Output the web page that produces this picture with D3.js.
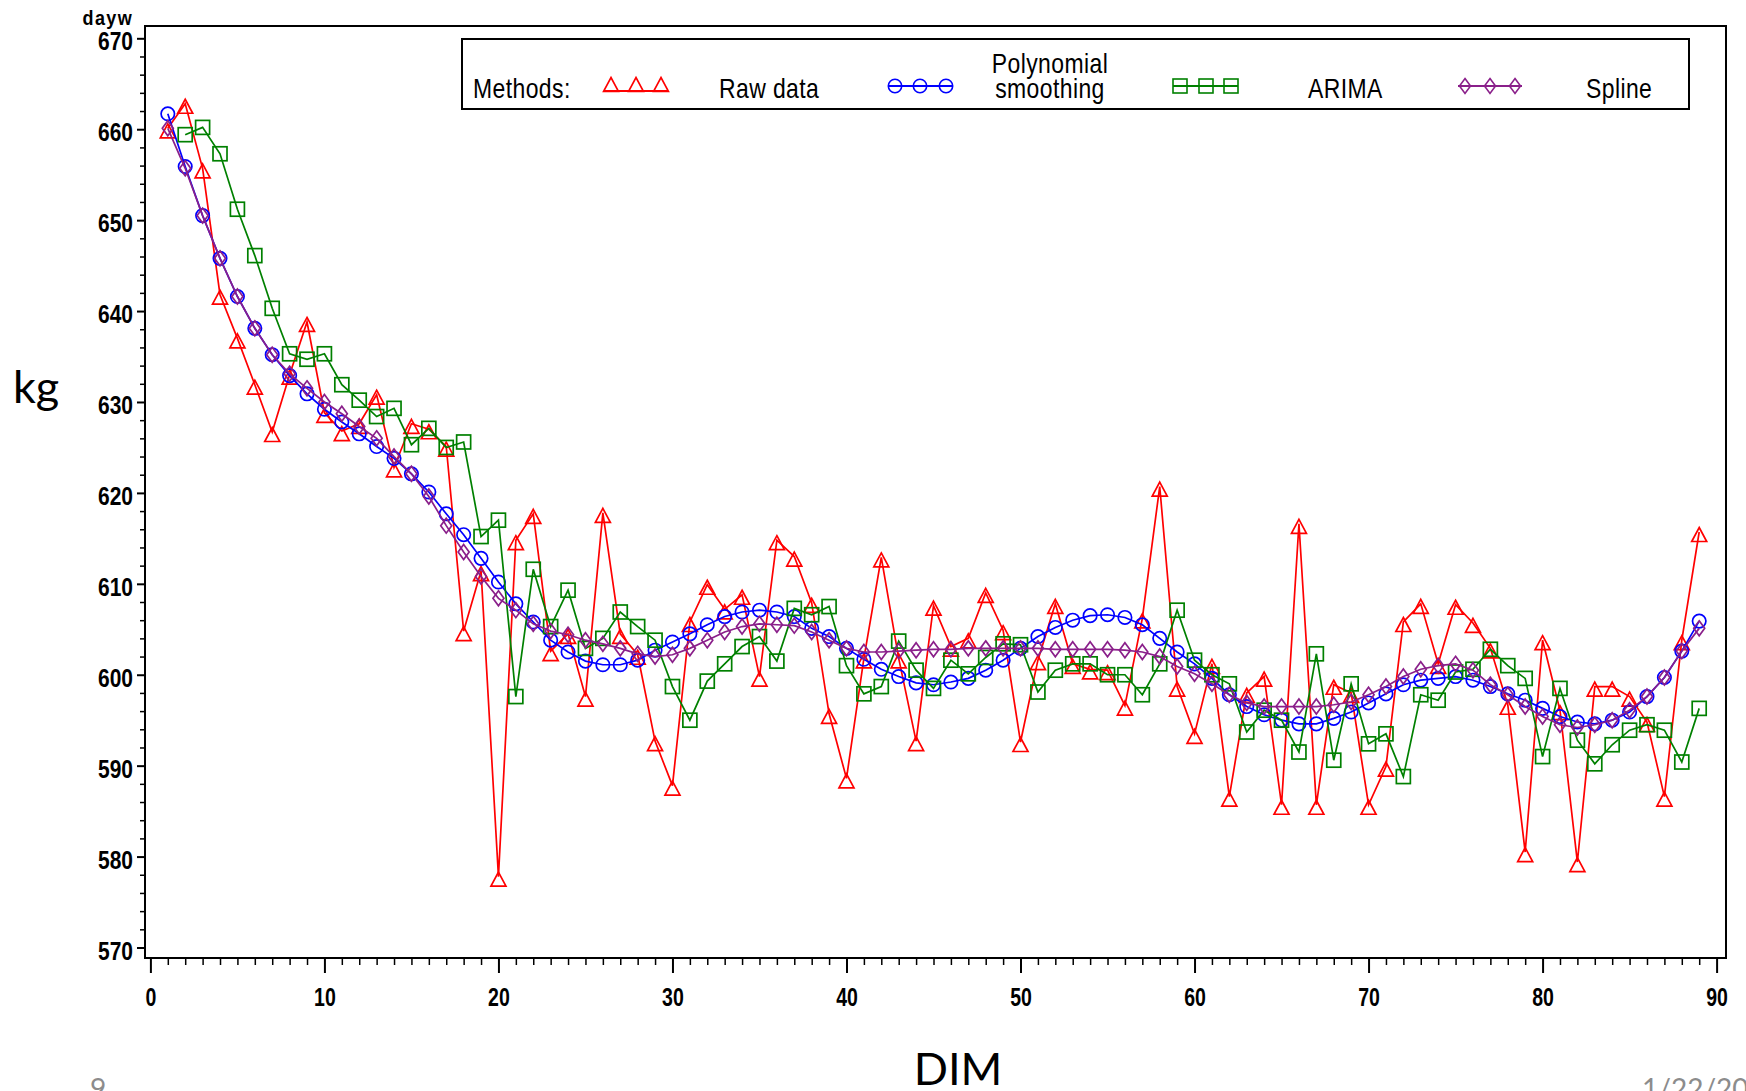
<!DOCTYPE html>
<html>
<head>
<meta charset="utf-8">
<script src="https://cdn.jsdelivr.net/npm/d3@7"></script>
<style>
  html, body { margin: 0; padding: 0; background: #ffffff; overflow: hidden; }
  svg { display: block; }
</style>
</head>
<body>
<svg id="chart" width="1746" height="1091"></svg>
<script>
// Days in milk (x values)
const dim = [
  1, 2, 3, 4, 5, 6, 7, 8, 9, 10, 11, 12, 13, 14, 15, 16, 17, 18, 19, 20,
  21, 22, 23, 24, 25, 26, 27, 28, 29, 30, 31, 32, 33, 34, 35, 36, 37, 38, 39, 40,
  41, 42, 43, 44, 45, 46, 47, 48, 49, 50, 51, 52, 53, 54, 55, 56, 57, 58, 59, 60,
  61, 62, 63, 64, 65, 66, 67, 68, 69, 70, 71, 72, 73, 74, 75, 76, 77, 78, 79, 80,
  81, 82, 83, 84, 85, 86, 87, 88, 89
];

// Body weight (kg) per method
const rawData = [
  660.1, 662.8, 655.7, 641.8, 637.0, 631.9, 626.7, 633.0, 638.8, 628.8,
  626.8, 627.6, 630.8, 622.8, 627.6, 627.0, 625.1, 604.8, 611.4, 577.8,
  614.8, 617.7, 602.6, 604.5, 597.6, 617.8, 604.5, 602.2, 592.7, 587.8,
  605.8, 609.9, 607.2, 608.8, 599.8, 614.8, 613.0, 607.9, 595.7, 588.6,
  601.8, 612.9, 601.8, 592.7, 607.6, 603.1, 604.0, 609.0, 604.9, 592.6,
  601.6, 607.8, 601.2, 600.6, 600.5, 596.6, 606.2, 620.7, 598.7, 593.5,
  601.2, 586.6, 598.0, 599.8, 585.7, 616.6, 585.7, 598.9, 598.0, 585.7,
  589.9, 605.8, 607.8, 601.2, 607.7, 605.7, 602.9, 596.7, 580.5, 603.8,
  596.1, 579.4, 598.7, 598.7, 597.6, 594.8, 586.6, 603.8, 615.7
];

const polySmooth = [
  661.7, 655.9, 650.5, 645.8, 641.6, 638.1, 635.2, 632.9, 630.9, 629.2,
  627.8, 626.5, 625.1, 623.8, 622.1, 620.1, 617.7, 615.4, 612.8, 610.2,
  607.8, 605.8, 603.8, 602.5, 601.5, 601.1, 601.1, 601.6, 602.7, 603.6,
  604.5, 605.5, 606.4, 606.9, 607.1, 606.9, 606.4, 605.1, 604.2, 602.9,
  601.7, 600.6, 599.8, 599.1, 598.9, 599.2, 599.6, 600.5, 601.6, 602.9,
  604.2, 605.2, 606.0, 606.5, 606.6, 606.3, 605.5, 604.0, 602.5, 601.2,
  599.6, 597.8, 596.5, 595.6, 595.0, 594.6, 594.6, 595.2, 595.9, 596.9,
  597.9, 598.9, 599.4, 599.6, 599.8, 599.4, 598.7, 597.9, 597.2, 596.3,
  595.4, 594.8, 594.6, 595.0, 595.9, 597.6, 599.7, 602.6, 605.9
];

// ARIMA has no value on day 1
const arima = [
  null, 659.4, 660.2, 657.3, 651.2, 646.1, 640.3, 635.3, 634.7, 635.3,
  631.9, 630.2, 628.4, 629.3, 625.3, 627.1, 625.0, 625.6, 615.2, 617.0,
  597.6, 611.6, 605.3, 609.3, 602.9, 604.0, 606.9, 605.3, 603.8, 598.7,
  595.0, 599.3, 601.2, 603.1, 604.2, 601.5, 607.3, 606.6, 607.5, 601.0,
  597.9, 598.7, 603.7, 600.5, 598.5, 601.6, 600.1, 601.9, 603.4, 603.3,
  598.1, 600.5, 601.2, 601.2, 600.0, 600.0, 597.8, 601.2, 607.1, 601.6,
  600.0, 599.0, 593.7, 596.1, 595.0, 591.5, 602.3, 590.6, 599.0, 592.4,
  593.5, 588.8, 597.8, 597.2, 600.3, 600.6, 602.8, 601.0, 599.6, 591.0,
  598.5, 592.8, 590.2, 592.3, 593.9, 594.5, 593.9, 590.4, 596.3
];

const spline = [
  660.1, 655.7, 650.5, 645.8, 641.6, 638.1, 635.2, 633.1, 631.5, 630.0,
  628.7, 627.3, 626.0, 624.0, 622.1, 619.6, 616.4, 613.5, 610.8, 608.4,
  607.1, 605.6, 604.8, 604.4, 603.8, 603.4, 602.9, 602.3, 602.0, 602.2,
  602.9, 603.8, 604.7, 605.3, 605.6, 605.5, 605.4, 604.7, 603.8, 602.9,
  602.5, 602.5, 602.6, 602.7, 602.8, 602.8, 602.9, 602.9, 602.9, 602.9,
  602.9, 602.8, 602.8, 602.8, 602.8, 602.7, 602.5, 602.0, 600.9, 600.1,
  599.0, 597.8, 596.9, 596.5, 596.5, 596.5, 596.5, 596.7, 597.0, 597.8,
  598.7, 599.8, 600.6, 601.0, 601.2, 600.5, 598.9, 597.8, 596.5, 595.4,
  594.5, 594.2, 594.5, 595.0, 596.1, 597.6, 599.7, 602.6, 605.1
];

const xTickValues = [0, 10, 20, 30, 40, 50, 60, 70, 80, 90];
const yTickValues = [570, 580, 590, 600, 610, 620, 630, 640, 650, 660, 670];

const legendTitle = "Methods:";
const methodNames = ["Raw data", "Polynomial|smoothing", "ARIMA", "Spline"];

// ---------------------------------------------------------------------------
const svg = d3.select("#chart");
const sasFont = '"Liberation Sans", Arial, sans-serif';
const slideFont = 'Lato, "Open Sans", "Noto Sans", sans-serif';

// Narrow the SAS-style text horizontally around its own anchor
function squeeze(sel, sx) {
  sel.each(function () {
    const t = d3.select(this);
    const x0 = +(t.attr("x") || 0);
    t.attr("x", x0 / sx).attr("transform", `scale(${sx},1)`);
  });
}

const frame = { left: 145, top: 26, right: 1726, bottom: 958 };
const x = d3.scaleLinear().domain([0, 90]).range([150.4, 1716.6]);
const y = d3.scaleLinear().domain([570, 670]).range([947.5, 38.3]);

// Marker shapes, drawn around the data point
const shapes = {
  triangle: g => g.append("path").attr("d", "M0,-4.5L7.5,9.5L-7.5,9.5Z"),
  circle:   g => g.append("circle").attr("r", 6.7),
  square:   g => g.append("rect").attr("x", -7).attr("y", -7).attr("width", 14).attr("height", 14),
  diamond:  g => g.append("path").attr("d", "M0,-7.5L5.5,0L0,7.5L-5.5,0Z")
};

const series = [
  { values: rawData,    color: "#ff0000", shape: "triangle" },
  { values: polySmooth, color: "#0000ff", shape: "circle" },
  { values: arima,      color: "#008000", shape: "square" },
  { values: spline,     color: "#8a1f8a", shape: "diamond" }
];

// Frame
svg.append("rect")
  .attr("x", frame.left).attr("y", frame.top)
  .attr("width", frame.right - frame.left).attr("height", frame.bottom - frame.top)
  .attr("fill", "none").attr("stroke", "#000").attr("stroke-width", 2);

// X axis: major and minor ticks
const xAxisG = svg.append("g").attr("transform", `translate(0,${frame.bottom})`);
xAxisG.append("g")
  .call(d3.axisBottom(x).tickValues(d3.range(0, 91, 1).filter(d => d % 10 !== 0))
    .tickSize(7).tickFormat(""))
  .call(g => g.select(".domain").remove())
  .call(g => g.selectAll("line").attr("stroke-width", 1.5));
xAxisG.append("g")
  .call(d3.axisBottom(x).tickValues(xTickValues).tickSize(15).tickPadding(15).tickFormat(d3.format("d")))
  .call(g => g.select(".domain").remove())
  .call(g => g.selectAll("line").attr("stroke-width", 2))
  .call(g => g.selectAll("text")
    .attr("font-family", sasFont).attr("font-size", 25).attr("font-weight", "bold").attr("fill", "#000")
    .call(squeeze, 0.78));

// Y axis: major and minor ticks
const yAxisG = svg.append("g").attr("transform", `translate(${frame.left},0)`);
yAxisG.append("g")
  .call(d3.axisLeft(y).tickValues(d3.range(570, 671, 2).filter(d => d % 10 !== 0))
    .tickSize(5).tickFormat(""))
  .call(g => g.select(".domain").remove())
  .call(g => g.selectAll("line").attr("stroke-width", 1.5));
yAxisG.append("g")
  .call(d3.axisLeft(y).tickValues(yTickValues).tickSize(8).tickPadding(4).tickFormat(d3.format("d")))
  .call(g => g.select(".domain").remove())
  .call(g => g.selectAll("line").attr("stroke-width", 2))
  .call(g => g.selectAll("text")
    .attr("dy", "0.46em")
    .attr("font-family", sasFont).attr("font-size", 25).attr("font-weight", "bold").attr("fill", "#000")
    .call(squeeze, 0.84));

// Variable name above the y axis
svg.append("text")
  .attr("x", 133).attr("y", 25)
  .attr("text-anchor", "end")
  .attr("font-family", sasFont).attr("font-size", 20).attr("font-weight", "bold")
  .attr("letter-spacing", 1.5)
  .text("dayw")
  .call(squeeze, 0.9);

// Series: line then markers
const plot = svg.append("g");
series.forEach(s => {
  const pts = dim.map((d, i) => ({ d, v: s.values[i] })).filter(p => p.v != null);
  plot.append("path")
    .datum(pts)
    .attr("fill", "none")
    .attr("stroke", s.color)
    .attr("stroke-width", 1.7)
    .attr("d", d3.line().x(p => x(p.d)).y(p => y(p.v)));
  const marks = plot.append("g")
    .attr("fill", "none").attr("stroke", s.color).attr("stroke-width", 1.7);
  pts.forEach(p => {
    const m = marks.append("g").attr("transform", `translate(${x(p.d)},${y(p.v)})`);
    shapes[s.shape](m);
  });
});

// Legend
const legend = svg.append("g");
legend.append("rect")
  .attr("x", 462).attr("y", 39).attr("width", 1227).attr("height", 70)
  .attr("fill", "#fff").attr("stroke", "#000").attr("stroke-width", 2);

const legendText = (txt, xPos, yPos, anchor) => legend.append("text")
  .attr("x", xPos).attr("y", yPos).attr("text-anchor", anchor || "start")
  .attr("font-family", sasFont).attr("font-size", 28).attr("fill", "#000")
  .attr("letter-spacing", 0.5)
  .text(txt)
  .call(squeeze, 0.82);

legendText(legendTitle, 473, 98);

const legendItems = [
  { xs: [611, 636, 661], lineY: 91, markY: 82 },
  { xs: [895, 920, 946], lineY: 86, markY: 86 },
  { xs: [1180, 1206, 1231], lineY: 86, markY: 86 },
  { xs: [1465, 1490, 1515], lineY: 86, markY: 86 }
];
const legendTextX = [719, 1050, 1308, 1586];

series.forEach((s, i) => {
  const it = legendItems[i];
  legend.append("line")
    .attr("x1", it.xs[0] - 7).attr("x2", it.xs[2] + 7)
    .attr("y1", it.lineY).attr("y2", it.lineY)
    .attr("stroke", s.color).attr("stroke-width", 2);
  const marks = legend.append("g")
    .attr("fill", "none").attr("stroke", s.color).attr("stroke-width", 1.6);
  it.xs.forEach(px => {
    const m = marks.append("g").attr("transform", `translate(${px},${it.markY})`);
    shapes[s.shape](m);
  });
  const parts = methodNames[i].split("|");
  if (parts.length === 2) {
    legendText(parts[0], legendTextX[i], 73, "middle");
    legendText(parts[1], legendTextX[i], 98, "middle");
  } else {
    legendText(parts[0], legendTextX[i], 98, "start");
  }
});

// Slide-level axis titles
svg.append("text")
  .attr("x", 13).attr("y", 403)
  .attr("font-family", slideFont).attr("font-size", 45).attr("fill", "#000")
  .text("kg");
svg.append("text")
  .attr("x", 958).attr("y", 1085)
  .attr("text-anchor", "middle")
  .attr("font-family", slideFont).attr("font-size", 45).attr("fill", "#000")
  .text("DIM");

// Slide footer
svg.append("text")
  .attr("x", 90).attr("y", 1099)
  .attr("font-family", slideFont).attr("font-size", 28).attr("fill", "#8c8c8c")
  .text("9");
svg.append("text")
  .attr("x", 1642).attr("y", 1099)
  .attr("font-family", slideFont).attr("font-size", 28).attr("fill", "#8c8c8c")
  .text("1/22/2020");
</script>
</body>
</html>
